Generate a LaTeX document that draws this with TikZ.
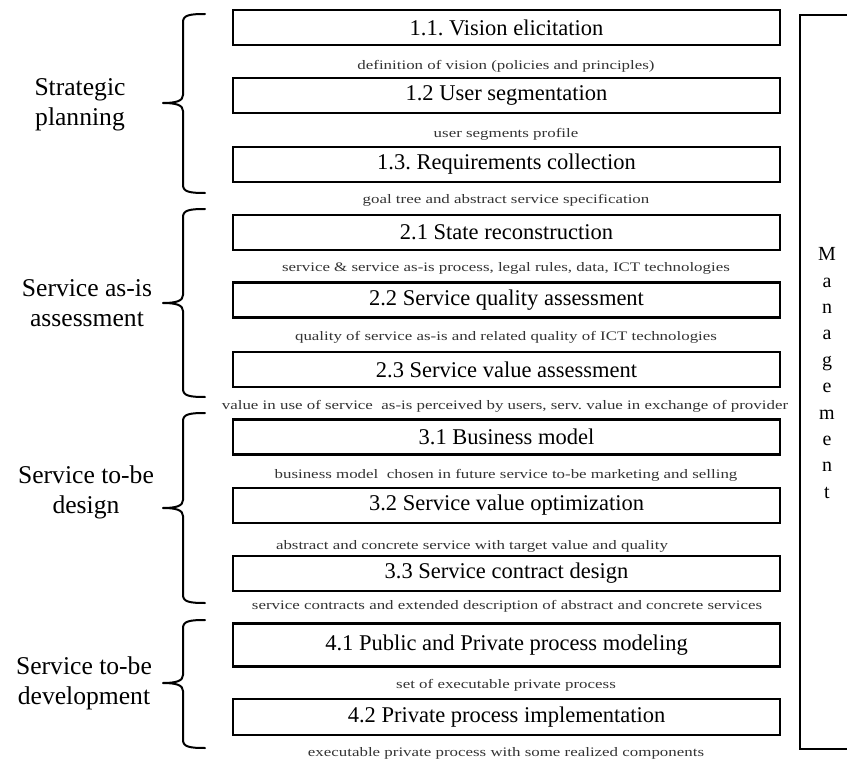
\documentclass[tikz,border=0pt]{standalone}
\usepackage{fontspec}
\setmainfont{Liberation Serif}
\frenchspacing
\newcommand\stretchtxt[1]{\scalebox{1.3}[1]{#1}}
\newcommand\phasebrace[3]{%
  \draw[bracestyle] (205,#1) .. controls (190,#1) and (183,#1+1) .. (183,#1+8)
    -- (183,#3-8) .. controls (183,#3-2) and (176,#3) .. (163,#3)
    .. controls (176,#3) and (183,#3+2) .. (183,#3+8)
    -- (183,#2-8) .. controls (183,#2-1) and (190,#2) .. (205,#2);}
\begin{document}
\begin{tikzpicture}[x=1pt,y=-1pt,
  stage/.style={draw, line width=2.4pt, minimum width=547pt, minimum height=35pt,
    inner sep=0pt, font=\fontsize{22.5}{27}\selectfont\frenchspacing},
  flow/.style={inner sep=0pt, text=black!80, font=\fontsize{13}{15}\selectfont\frenchspacing},
  phase/.style={align=center, inner sep=0pt, font=\fontsize{25.6}{30}\selectfont},
  bracestyle/.style={line width=2pt, line join=round, line cap=round}
]
\clip (0,0) rectangle (847,760);
\fill[white] (0,0) rectangle (847,760);

% stages
\node[stage] (s11) at (506.5,27.5) {1.1. Vision elicitation};
\node[stage] (s12) at (506.5,95.5) {1.2 User segmentation};
\node[stage] (s13) at (506.5,164.5) {1.3. Requirements collection};
\node[stage] (s21) at (506.5,232.5) {2.1 State reconstruction};
\node[stage] (s22) at (506.5,300) {2.2 Service quality assessment};
\node[stage] (s23) at (506.5,369.5) {2.3 Service value assessment};
\node[stage] (s31) at (506.5,437) {3.1 Business model};
\node[stage] (s32) at (506.5,505.5) {3.2 Service value optimization};
\node[stage] (s33) at (506.5,573.5) {3.3 Service contract design};
\node[stage, minimum height=43pt] (s41) at (506.5,645) {4.1 Public and Private process modeling};
\node[stage, minimum height=36pt] (s42) at (506.5,717) {4.2 Private process implementation};

% flow texts
\node[flow] (f1) at (506,66) {\stretchtxt{definition of vision (policies and principles)}};
\node[flow] (f2) at (506,134) {\stretchtxt{user segments profile}};
\node[flow] (f3) at (506,200) {\stretchtxt{goal tree and abstract service specification}};
\node[flow] (f4) at (506,268) {\stretchtxt{service \& service as-is process, legal rules, data, ICT technologies}};
\node[flow] (f5) at (506,337) {\stretchtxt{quality of service as-is and related quality of ICT technologies}};
\node[flow] (f6) at (505,406) {\stretchtxt{value in use of service\ \ as-is perceived by users, serv. value in exchange of provider}};
\node[flow] (f7) at (506,475) {\stretchtxt{business model\ \ chosen in future service to-be marketing and selling}};
\node[flow] (f8) at (472,546) {\stretchtxt{abstract and concrete service with target value and quality}};
\node[flow] (f9) at (507,606) {\stretchtxt{service contracts and extended description of abstract and concrete services}};
\node[flow] (f10) at (506,685) {\stretchtxt{set of executable private process}};
\node[flow] (f11) at (506,753) {\stretchtxt{executable private process with some realized components}};

% phases
\node[phase] (p1) at (80,105) {Strategic\\planning};
\node[phase] (p2) at (87,303) {Service as-is\\assessment};
\node[phase] (p3) at (86,492) {Service to-be\\design};
\node[phase] (p4) at (84,683) {Service to-be\\development};

\phasebrace{14}{193}{103}
\phasebrace{209}{397}{303}
\phasebrace{413}{603}{508}
\phasebrace{620}{748}{683}

% management
\node[draw, line width=2pt, minimum width=80pt, minimum height=734pt, inner sep=0pt,
  anchor=north west] (mgmt) at (799,14) {};
\node[align=center, inner sep=0pt, font=\fontsize{20}{26.4}\selectfont] (mtext) at (827,373)
  {M\\a\\n\\a\\g\\e\\m\\e\\n\\t};
\end{tikzpicture}
\end{document}
